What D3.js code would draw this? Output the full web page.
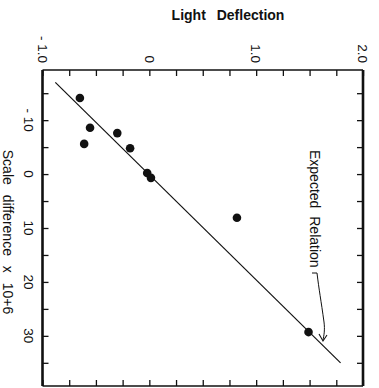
<!DOCTYPE html>
<html>
<head>
 <meta charset="utf-8">
 <title>Light deflection vs scale difference</title>
 <script src="https://cdn.jsdelivr.net/npm/d3@7"></script>
 <style>
  body { margin: 0; background: #fff; }
  text { font-family: "Liberation Sans", Arial, sans-serif; fill: #111; }
 </style>
</head>
<body>
<div id="chart"></div>
<script type="text/javascript">

 // observed points: light deflection vs scale difference (x 10^6)
 var deflection = [-0.65, -0.555, -0.61, -0.30, -0.18, -0.02, 0.015, 0.82, 1.49];
 var scaleDiff  = [-14.1, -8.6, -5.6, -7.6, -4.8, -0.2, 0.7, 8.1, 29.3];

 // expected relation endpoints
 var expDeflection = [-0.88, 1.79];
 var expScale      = [-17, 35];

 var xTicks = d3.range(-1, 2.001, 0.25);
 var xLabels = [-1, 0, 1, 2];
 var yTicks = d3.range(-15, 35.001, 5);
 var yLabels = [-10, 0, 10, 20, 30];

 var W = 379, H = 388;
 var svg = d3.select("#chart").append("svg")
   .attr("width", W).attr("height", H);

 var x = d3.scaleLinear().domain([-1, 2]).range([42.5, 363]);
 var y = d3.scaleLinear().domain([-19.3, 39.3]).range([70, 386]);

 var yTop = y.range()[0], yBot = y.range()[1];
 var xLeft = x.range()[0], xRight = x.range()[1];

 // ticks, pointing inward
 svg.append("g").attr("transform", "translate(0," + yTop + ")")
   .call(d3.axisTop(x).tickValues(xTicks).tickSize(-6).tickFormat(""));
 svg.append("g").attr("transform", "translate(0," + yBot + ")")
   .call(d3.axisBottom(x).tickValues(xTicks).tickSize(-6).tickFormat(""));
 svg.append("g").attr("transform", "translate(" + xLeft + ",0)")
   .call(d3.axisLeft(y).tickValues(yTicks).tickSize(-6).tickFormat(""));
 svg.append("g").attr("transform", "translate(" + xRight + ",0)")
   .call(d3.axisRight(y).tickValues(yTicks).tickSize(-6).tickFormat(""));
 svg.selectAll(".domain").remove();
 svg.selectAll(".tick line").attr("stroke", "#111").attr("stroke-width", 1.3);

 // frame: thin top/bottom, heavy sides
 svg.append("line").attr("x1", xLeft).attr("x2", xRight).attr("y1", yTop).attr("y2", yTop)
   .attr("stroke", "#111").attr("stroke-width", 1.6);
 svg.append("line").attr("x1", xLeft).attr("x2", xRight).attr("y1", yBot).attr("y2", yBot)
   .attr("stroke", "#111").attr("stroke-width", 1.6);
 svg.append("line").attr("x1", xLeft).attr("x2", xLeft).attr("y1", yTop).attr("y2", yBot)
   .attr("stroke", "#111").attr("stroke-width", 2.6);
 svg.append("line").attr("x1", xRight).attr("x2", xRight).attr("y1", yTop).attr("y2", yBot)
   .attr("stroke", "#111").attr("stroke-width", 2.6);

 // top tick labels (rotated)
 svg.selectAll(".xl").data(xLabels).enter().append("text")
   .attr("transform", function(d){ return "translate(" + x(d) + "," + (yTop - 7) + ") rotate(90)"; })
   .attr("text-anchor", "end")
   .attr("dy", "0.35em")
   .style("font-size", "13.5px")
   .text(function(d){
     if (d == 0) return "0";
     return (d < 0 ? "- " : "") + Math.abs(d).toFixed(1);
   });

 // left tick labels (rotated)
 svg.selectAll(".yl").data(yLabels).enter().append("text")
   .attr("transform", function(d){ return "translate(29," + y(d) + ") rotate(90)"; })
   .attr("text-anchor", "middle")
   .attr("dy", "0.35em")
   .style("font-size", "13.5px")
   .text(function(d){ return d < 0 ? "- " + (-d) : d; });

 // titles
 svg.append("text")
   .attr("x", 228).attr("y", 20)
   .attr("text-anchor", "middle")
   .style("font-size", "14px").style("font-weight", "bold")
   .style("word-spacing", "7px")
   .text("Light Deflection");

 svg.append("text")
   .attr("transform", "translate(8,232) rotate(90)")
   .attr("text-anchor", "middle")
   .attr("dy", "0.35em")
   .style("font-size", "14px")
   .style("word-spacing", "6px")
   .text("Scale difference x 10+6");

 // expected relation line
 var line = d3.line()
   .x(function(d){ return x(d[0]); })
   .y(function(d){ return y(d[1]); });
 svg.append("path")
   .datum(d3.zip(expDeflection, expScale))
   .attr("d", line)
   .attr("fill", "none").attr("stroke", "#111").attr("stroke-width", 1.2);

 // observed points
 svg.selectAll("circle")
   .data(d3.zip(deflection, scaleDiff))
   .enter().append("circle")
   .attr("cx", function(d){ return x(d[0]); })
   .attr("cy", function(d){ return y(d[1]); })
   .attr("r", 4.3)
   .attr("fill", "#111");

 // annotation
 svg.append("text")
   .attr("transform", "translate(315,150) rotate(90)")
   .attr("text-anchor", "start")
   .attr("dy", "0.35em")
   .style("font-size", "14px")
   .style("word-spacing", "4px")
   .text("Expected Relation");

 svg.append("path")
   .attr("d", "M312,273 L317,273 C319,290 321,300 324,322 C325,330 324,335 323,340")
   .attr("fill", "none").attr("stroke", "#111").attr("stroke-width", 1);
 svg.append("path")
   .attr("d", "M319,334 L323,341 L327,335")
   .attr("fill", "none").attr("stroke", "#111").attr("stroke-width", 1.1);

</script>
</body>
</html>
